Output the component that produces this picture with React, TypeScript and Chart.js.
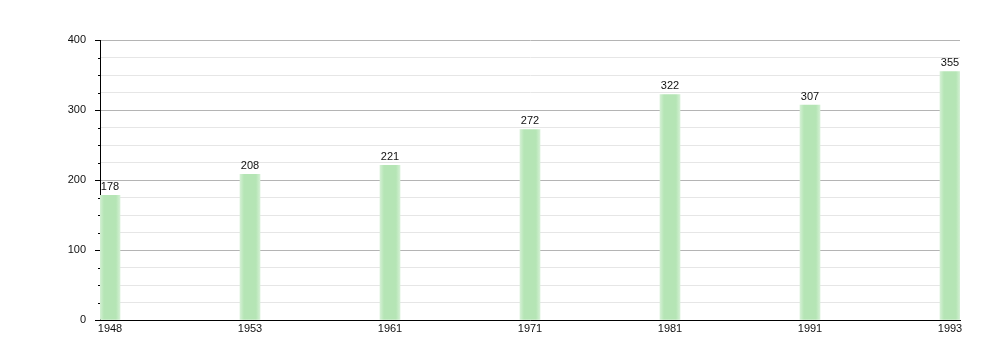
import React, { useEffect, useRef } from "react";
import { Chart, registerables } from "chart.js";

Chart.register(...registerables);

const years = ["1948", "1953", "1961", "1971", "1981", "1991", "1993"];
const population = [178, 208, 221, 272, 322, 307, 355];
const yMax = 400;
const majorStep = 100;
const minorStep = 25;

const FONT = "'Liberation Sans', Arial, sans-serif";

export default function App() {
  const ref = useRef<HTMLCanvasElement | null>(null);

  useEffect(() => {
    document.body.style.margin = "0";
    const canvas = ref.current;
    if (!canvas) return;

    const valueLabels = {
      id: "valueLabels",
      afterDatasetsDraw(chart: any) {
        const ctx = chart.ctx;
        const meta = chart.getDatasetMeta(0);
        ctx.save();
        ctx.font = `11px ${FONT}`;
        ctx.fillStyle = "#111";
        ctx.textAlign = "center";
        ctx.textBaseline = "bottom";
        meta.data.forEach((el: any, i: number) => {
          ctx.fillText(String(population[i]), el.x, el.y - 3);
        });
        ctx.restore();
      },
    };

    const minorTicks = {
      id: "minorTicks",
      afterDraw(chart: any) {
        const ctx = chart.ctx;
        const y = chart.scales.y;
        const left = chart.chartArea.left;
        ctx.save();
        ctx.strokeStyle = "#000";
        ctx.lineWidth = 1;
        for (let v = 0; v <= yMax; v += minorStep) {
          if (v % majorStep === 0) continue;
          const py = Math.round(y.getPixelForValue(v)) + 0.5;
          ctx.beginPath();
          ctx.moveTo(left - 2, py);
          ctx.lineTo(left, py);
          ctx.stroke();
        }
        ctx.restore();
      },
    };

    const chart = new Chart(canvas, {
      type: "bar",
      data: {
        datasets: [
          {
            data: population.map((v, i) => ({ x: i, y: v })),
            barThickness: 20,
            backgroundColor: (c: any) => {
              const ch = c.chart;
              if (!ch.chartArea || !ch.scales.x) return "#b3e5b3";
              const xc = ch.scales.x.getPixelForValue(c.dataIndex);
              const g = ch.ctx.createLinearGradient(xc - 10, 0, xc + 10, 0);
              g.addColorStop(0, "#d4f0d4");
              g.addColorStop(0.2, "#b5e5b5");
              g.addColorStop(0.8, "#b5e5b5");
              g.addColorStop(1, "#d4f0d4");
              return g;
            },
            borderWidth: 0,
          },
        ],
      },
      options: {
        animation: false,
        responsive: false,
        maintainAspectRatio: false,
        layout: { padding: { left: 0, right: 40, top: 40, bottom: 0 } },
        plugins: { legend: { display: false }, tooltip: { enabled: false } },
        scales: {
          x: {
            type: "linear",
            offset: false,
            min: -1 / 14,
            max: years.length - 1 + 1 / 14,
            afterBuildTicks: (scale: any) => {
              scale.ticks = years.map((_, i) => ({ value: i }));
            },
            afterFit: (scale: any) => {
              scale.height = 40;
            },
            grid: { display: false, drawTicks: false },
            border: { display: true, color: "#000", width: 1 },
            ticks: {
              padding: 2,
              autoSkip: false,
              maxRotation: 0,
              color: "#111",
              font: { family: FONT, size: 11 },
              callback: (v: any) => years[v as number] ?? "",
            },
          },
          y: {
            min: 0,
            max: yMax,
            afterFit: (scale: any) => {
              scale.width = 100;
            },
            grid: {
              color: (c: any) =>
                c.tick && c.tick.value % majorStep === 0 ? "#b4b4b4" : "#e6e6e6",
              tickColor: (c: any) =>
                c.tick && c.tick.value % majorStep === 0 ? "#000" : "rgba(0,0,0,0)",
              tickLength: 5,
            },
            border: { display: true, color: "#000", width: 1 },
            ticks: {
              stepSize: minorStep,
              padding: 9,
              color: "#111",
              font: { family: FONT, size: 11 },
              callback: (v: any) => ((v as number) % majorStep === 0 ? String(v) : ""),
            },
          },
        },
      },
      plugins: [valueLabels, minorTicks],
    });

    return () => chart.destroy();
  }, []);

  return (
    <div style={{ width: 1000, height: 360 }}>
      <canvas ref={ref} width={1000} height={360} />
    </div>
  );
}
